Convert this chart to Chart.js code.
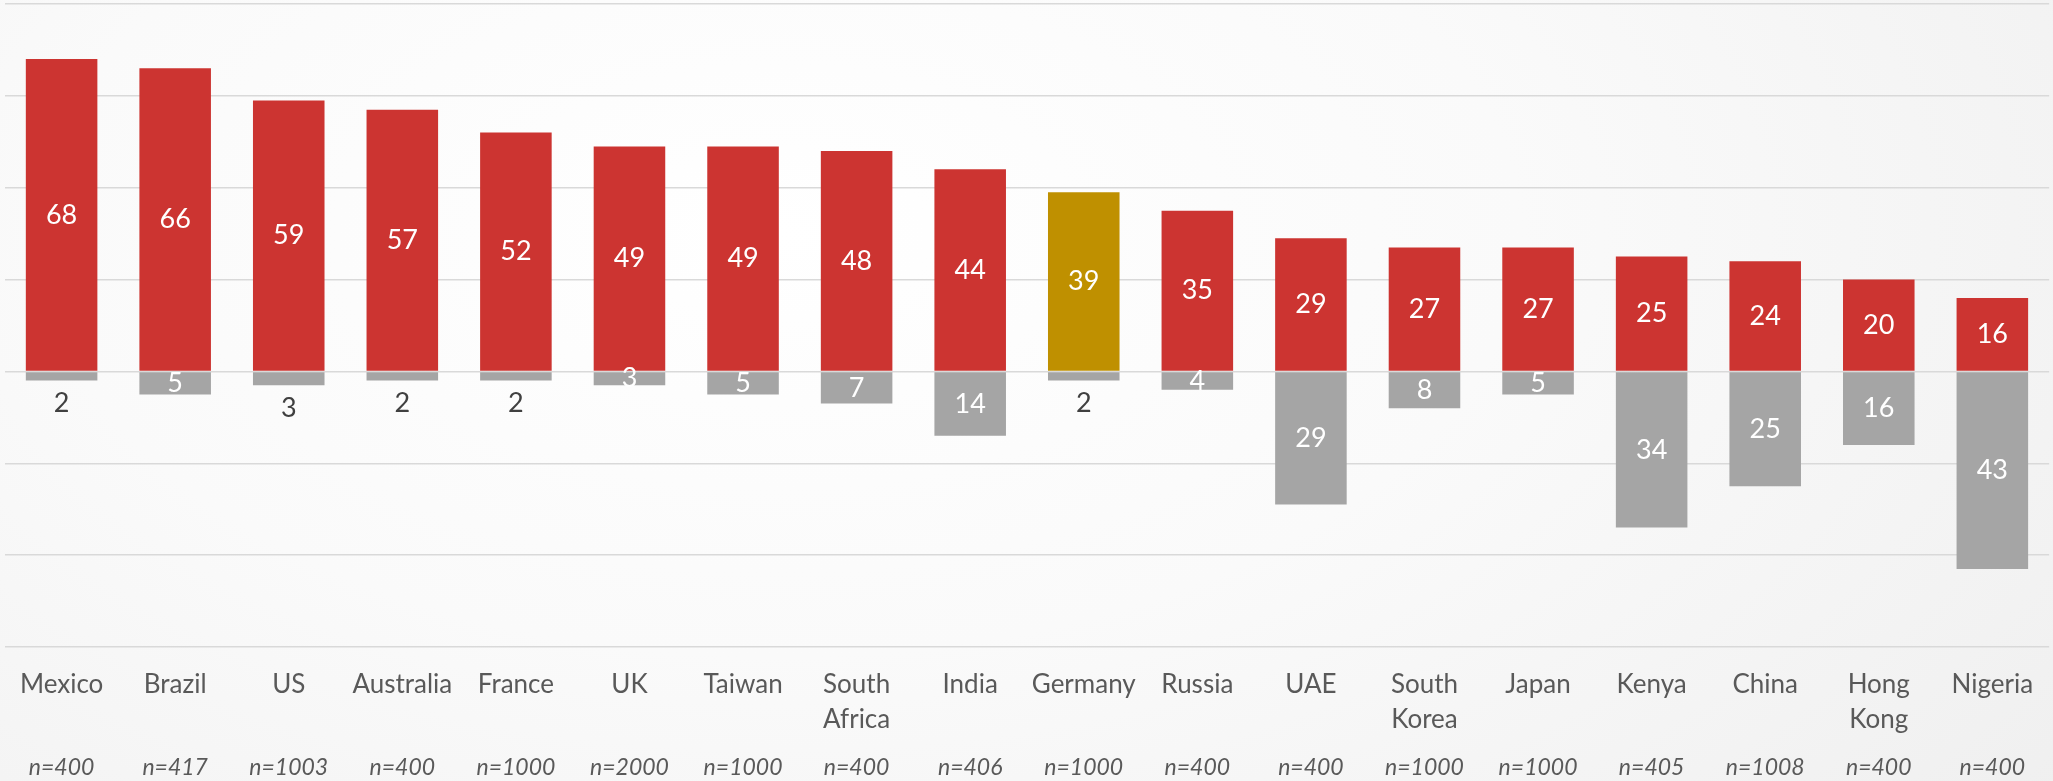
<!DOCTYPE html>
<html lang="en">
<head>
<meta charset="utf-8">
<title>Country comparison</title>
<script src="https://cdn.jsdelivr.net/npm/chart.js@4.4.1/dist/chart.umd.min.js"></script>
<style>
  html, body { margin: 0; padding: 0; }
  body {
    width: 2053px;
    height: 781px;
    overflow: hidden;
    background: radial-gradient(ellipse 80% 120% at 38% 30%, #ffffff 0%, #fafafa 45%, #efefef 100%);
  }
  #wrap { position: relative; width: 2053px; height: 781px; }
</style>
</head>
<body>
<div id="wrap"><canvas id="chart"></canvas></div>
<script>
/*
|--------------------------------------------------------------------------
| Data
|--------------------------------------------------------------------------
*/
const countries = ['Mexico', 'Brazil', 'US', 'Australia', 'France', 'UK', 'Taiwan',
  'South Africa', 'India', 'Germany', 'Russia', 'UAE', 'South Korea', 'Japan',
  'Kenya', 'China', 'Hong Kong', 'Nigeria'];
const sampleSizes = [400, 417, 1003, 400, 1000, 2000, 1000, 400, 406, 1000, 400, 400,
  1000, 1000, 405, 1008, 400, 400];
const positiveShares = [68, 66, 59, 57, 52, 49, 49, 48, 44, 39, 35, 29, 27, 27, 25, 24, 20, 16];
const negativeShares = [2, 5, 3, 2, 2, 3, 5, 7, 14, 2, 4, 29, 8, 5, 34, 25, 16, 43];
const highlighted = 'Germany';
// small negative values whose label sits under the bar instead of inside
const labelsBelow = ['Mexico', 'US', 'Australia', 'France', 'Germany'];

const RED = '#cc3431';
const GOLD = '#bf9000';
const GREY = '#a5a5a5';
const TEXT = '#595959';

/*
|--------------------------------------------------------------------------
| Data labels (drawn from the bar elements)
|--------------------------------------------------------------------------
*/
const barLabels = {
  id: 'barLabels',
  afterDatasetsDraw(chart) {
    const ctx = chart.ctx;
    ctx.save();
    ctx.font = '27px Lato';
    ctx.textAlign = 'center';
    ctx.textBaseline = 'middle';
    chart.data.datasets.forEach((ds, i) => {
      chart.getDatasetMeta(i).data.forEach((bar, j) => {
        const raw = ds.data[j];
        const p = bar.getProps(['x', 'y', 'base'], true);
        let y = (p.y + p.base) / 2;
        ctx.fillStyle = '#ffffff';
        if (raw < 0 && labelsBelow.includes(countries[j])) {
          y = p.y + 23;
          ctx.fillStyle = '#404040';
        }
        ctx.fillText(String(Math.abs(raw)), p.x, y);
      });
    });
    ctx.restore();
  }
};

/*
|--------------------------------------------------------------------------
| Chart
|--------------------------------------------------------------------------
*/
const ctx = document.getElementById('chart');

new Chart(ctx, {
  type: 'bar',
  data: {
    labels: countries.map(c => c.includes(' ') ? c.split(' ') : c),
    datasets: [
      {
        label: 'positive',
        data: positiveShares,
        backgroundColor: countries.map(c => c === highlighted ? GOLD : RED),
        barPercentage: 0.63,
        categoryPercentage: 1
      },
      {
        label: 'negative',
        data: negativeShares.map(v => -v),
        backgroundColor: GREY,
        barPercentage: 0.63,
        categoryPercentage: 1
      }
    ]
  },
  options: {
    responsive: true,
    maintainAspectRatio: false,
    animation: false,
    layout: { padding: { top: 4, left: 0, right: 0, bottom: 0 } },
    plugins: {
      legend: { display: false },
      tooltip: { enabled: false }
    },
    scales: {
      x: {
        stacked: true,
        weight: 0,
        grid: { display: false, drawTicks: false },
        border: { display: false },
        ticks: {
          color: TEXT,
          padding: 20,
          maxRotation: 0,
          autoSkip: false,
          font: { family: 'Lato', size: 26, lineHeight: 1.35 }
        },
        afterFit(scale) { scale.height = 100; }
      },
      n: {
        type: 'category',
        labels: sampleSizes.map(n => 'n=' + n),
        position: 'bottom',
        offset: true,
        weight: 1,
        grid: { display: false, drawTicks: false },
        border: { display: false },
        ticks: {
          color: TEXT,
          padding: 7,
          maxRotation: 0,
          autoSkip: false,
          font: { family: 'Lato', size: 23, style: 'italic' }
        },
        afterFit(scale) { scale.height = 34; }
      },
      y: {
        stacked: true,
        min: -60,
        max: 80,
        ticks: { display: false, stepSize: 20 },
        grid: { color: '#d9d9d9', lineWidth: 1.5, drawTicks: false },
        border: { display: false },
        afterFit(scale) { scale.width = 0; }
      }
    }
  },
  plugins: [barLabels]
});
</script>
</body>
</html>
